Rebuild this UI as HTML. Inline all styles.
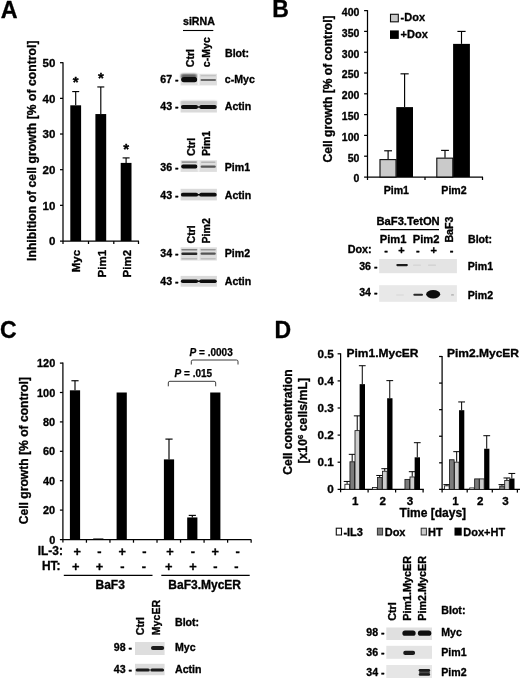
<!DOCTYPE html>
<html lang="en">
<head>
<meta charset="utf-8">
<title>Figure</title>
<style>
html,body{margin:0;padding:0;background:#fff;}
body{width:520px;height:678px;overflow:hidden;}
svg{display:block;}
svg text{font-family:"Liberation Sans", Arial, Helvetica, sans-serif;fill:#000;stroke:#000;stroke-width:0.33px;stroke-linejoin:round;}
</style>
</head>
<body>
<svg width="520" height="678" viewBox="0 0 520 678">
<defs>
<filter id="f1" x="-20%" y="-60%" width="140%" height="220%"><feGaussianBlur stdDeviation="0.75"/></filter>
<filter id="f2" x="-20%" y="-60%" width="140%" height="220%"><feGaussianBlur stdDeviation="1.1"/></filter>
<filter id="soft" x="-2%" y="-2%" width="104%" height="104%"><feGaussianBlur stdDeviation="0.35"/></filter>
</defs>
<rect x="0" y="0" width="520" height="678" fill="#ffffff"/>
<g filter="url(#soft)">
<text x="0.7" y="18.4" font-size="23.3" text-anchor="start" font-weight="bold">A</text>
<text x="272.2" y="17.4" font-size="23" text-anchor="start" font-weight="bold">B</text>
<text x="-0.1" y="337.7" font-size="23" text-anchor="start" font-weight="bold">C</text>
<text x="274.6" y="337.8" font-size="23" text-anchor="start" font-weight="bold">D</text>
<line x1="63.00" y1="62.20" x2="63.00" y2="244.00" stroke="#000" stroke-width="1.25"/>
<line x1="60.00" y1="241.00" x2="139.00" y2="241.00" stroke="#000" stroke-width="1.25"/>
<text x="55.3" y="245.2" font-size="11.5" text-anchor="end" font-weight="bold">0</text>
<line x1="60.00" y1="205.34" x2="63.00" y2="205.34" stroke="#000" stroke-width="1.25"/>
<text x="55.3" y="209.54" font-size="11.5" text-anchor="end" font-weight="bold">10</text>
<line x1="60.00" y1="169.68" x2="63.00" y2="169.68" stroke="#000" stroke-width="1.25"/>
<text x="55.3" y="173.88" font-size="11.5" text-anchor="end" font-weight="bold">20</text>
<line x1="60.00" y1="134.02" x2="63.00" y2="134.02" stroke="#000" stroke-width="1.25"/>
<text x="55.3" y="138.21999999999997" font-size="11.5" text-anchor="end" font-weight="bold">30</text>
<line x1="60.00" y1="98.36" x2="63.00" y2="98.36" stroke="#000" stroke-width="1.25"/>
<text x="55.3" y="102.56000000000002" font-size="11.5" text-anchor="end" font-weight="bold">40</text>
<line x1="60.00" y1="62.70" x2="63.00" y2="62.70" stroke="#000" stroke-width="1.25"/>
<text x="55.3" y="66.89999999999999" font-size="11.5" text-anchor="end" font-weight="bold">50</text>
<line x1="88.50" y1="241.00" x2="88.50" y2="244.00" stroke="#000" stroke-width="1.25"/>
<line x1="113.80" y1="241.00" x2="113.80" y2="244.00" stroke="#000" stroke-width="1.25"/>
<line x1="138.50" y1="241.00" x2="138.50" y2="244.00" stroke="#000" stroke-width="1.25"/>
<rect x="70.30" y="105.31" width="10.80" height="135.69" fill="#050505"/>
<line x1="75.70" y1="91.58" x2="75.70" y2="105.31" stroke="#000" stroke-width="1.15"/>
<line x1="72.20" y1="91.58" x2="79.20" y2="91.58" stroke="#000" stroke-width="1.15"/>
<text x="75.7" y="87.38459999999999" font-size="15" text-anchor="middle" font-weight="bold">*</text>
<text x="80.5" y="249.9" font-size="11.5" text-anchor="end" font-weight="bold" transform="rotate(-90 80.5 249.9)">Myc</text>
<rect x="95.40" y="114.05" width="10.80" height="126.95" fill="#050505"/>
<line x1="100.80" y1="86.95" x2="100.80" y2="114.05" stroke="#000" stroke-width="1.15"/>
<line x1="97.30" y1="86.95" x2="104.30" y2="86.95" stroke="#000" stroke-width="1.15"/>
<text x="100.8" y="82.74879999999997" font-size="15" text-anchor="middle" font-weight="bold">*</text>
<text x="105.8" y="249.9" font-size="11.5" text-anchor="end" font-weight="bold" transform="rotate(-90 105.8 249.9)">Pim1</text>
<rect x="120.70" y="162.90" width="10.80" height="78.10" fill="#050505"/>
<line x1="126.10" y1="157.91" x2="126.10" y2="162.90" stroke="#000" stroke-width="1.15"/>
<line x1="122.60" y1="157.91" x2="129.60" y2="157.91" stroke="#000" stroke-width="1.15"/>
<text x="126.1" y="153.7122" font-size="15" text-anchor="middle" font-weight="bold">*</text>
<text x="131" y="249.9" font-size="11.5" text-anchor="end" font-weight="bold" transform="rotate(-90 131 249.9)">Pim2</text>
<text x="35.6" y="261.0" font-size="12.1" text-anchor="start" font-weight="bold" transform="rotate(-90 35.6 261.0)" textLength="220.5" lengthAdjust="spacing">Inhibition of cell growth [% of control]</text>
<text x="183" y="25.3" font-size="10.6" text-anchor="start" font-weight="bold">siRNA</text>
<line x1="183.00" y1="30.50" x2="213.30" y2="30.50" stroke="#000" stroke-width="1.1"/>
<text x="194.4" y="67.2" font-size="10.6" text-anchor="start" font-weight="bold" transform="rotate(-90 194.4 67.2)">Ctrl</text>
<text x="209.8" y="67.2" font-size="10.6" text-anchor="start" font-weight="bold" transform="rotate(-90 209.8 67.2)">c-Myc</text>
<text x="225" y="57.4" font-size="10.6" text-anchor="start" font-weight="bold">Blot:</text>
<text x="160.3" y="82.8" font-size="10.6" text-anchor="start" font-weight="bold">67 -</text>
<g><rect x="180.6" y="73.8" width="36.3" height="11.6" fill="#dedede" filter="url(#f1)"/>
<rect x="180.8" y="73.9" width="16.2" height="4.6" rx="2.30" fill="#5a5a5a" filter="url(#f2)"/>
<rect x="181.2" y="77.0" width="16.0" height="5.2" rx="2.60" fill="#080808" filter="url(#f1)"/>
<rect x="197.6" y="73.5" width="2" height="12" rx="1.00" fill="#f4f4f4" filter="url(#f1)"/>
<rect x="200.5" y="79.1" width="15.5" height="1.9" rx="0.95" fill="#6a6a6a" filter="url(#f1)"/>
<rect x="200.5" y="75.3" width="15.5" height="1.0" rx="0.50" fill="#bbb" filter="url(#f1)"/>
</g>
<text x="224.8" y="82.8" font-size="10.6" text-anchor="start" font-weight="bold">c-Myc</text>
<text x="160.3" y="110.4" font-size="10.6" text-anchor="start" font-weight="bold">43 -</text>
<g><rect x="180.6" y="100.9" width="36.3" height="11.6" fill="#dadada" filter="url(#f1)"/>
<rect x="180.6" y="100.9" width="36.3" height="4" rx="2.00" fill="#c2c2c2" filter="url(#f2)"/>
<rect x="180.9" y="104.9" width="17.2" height="4.2" rx="2.10" fill="#080808" filter="url(#f1)"/>
<rect x="199.3" y="104.9" width="17.4" height="4.0" rx="2.00" fill="#080808" filter="url(#f1)"/>
<rect x="196" y="106.2" width="6" height="1.6" rx="0.80" fill="#111" filter="url(#f1)"/>
</g>
<text x="224.8" y="110.4" font-size="10.6" text-anchor="start" font-weight="bold">Actin</text>
<text x="194.6" y="156.1" font-size="10.6" text-anchor="start" font-weight="bold" transform="rotate(-90 194.6 156.1)">Ctrl</text>
<text x="210.1" y="156.1" font-size="10.6" text-anchor="start" font-weight="bold" transform="rotate(-90 210.1 156.1)">Pim1</text>
<text x="160.3" y="170.7" font-size="10.6" text-anchor="start" font-weight="bold">36 -</text>
<g><rect x="180.6" y="160.3" width="36.3" height="11.6" fill="#dedede" filter="url(#f1)"/>
<rect x="181.2" y="164.6" width="16.2" height="3.8" rx="1.90" fill="#0c0c0c" filter="url(#f1)"/>
<rect x="200.6" y="165.5" width="15.2" height="2.3" rx="1.15" fill="#555" filter="url(#f1)"/>
<rect x="181.5" y="161.3" width="15.5" height="1.6" rx="0.80" fill="#999" filter="url(#f1)"/>
<rect x="201" y="161.5" width="14.5" height="1.4" rx="0.70" fill="#b5b5b5" filter="url(#f1)"/>
<rect x="197.6" y="160" width="2" height="12" rx="1.00" fill="#f0f0f0" filter="url(#f1)"/>
</g>
<text x="224.8" y="170.7" font-size="10.6" text-anchor="start" font-weight="bold">Pim1</text>
<text x="160.3" y="198.6" font-size="10.6" text-anchor="start" font-weight="bold">43 -</text>
<g><rect x="180.6" y="188.8" width="36.3" height="11.6" fill="#dadada" filter="url(#f1)"/>
<rect x="180.9" y="192.8" width="17.2" height="3.8" rx="1.90" fill="#080808" filter="url(#f1)"/>
<rect x="199.3" y="192.8" width="17.4" height="3.7" rx="1.85" fill="#080808" filter="url(#f1)"/>
<rect x="196" y="194" width="6" height="1.5" rx="0.75" fill="#111" filter="url(#f1)"/>
</g>
<text x="224.8" y="198.6" font-size="10.6" text-anchor="start" font-weight="bold">Actin</text>
<text x="194.6" y="243.5" font-size="10.6" text-anchor="start" font-weight="bold" transform="rotate(-90 194.6 243.5)">Ctrl</text>
<text x="210.1" y="243.5" font-size="10.6" text-anchor="start" font-weight="bold" transform="rotate(-90 210.1 243.5)">Pim2</text>
<text x="160.3" y="256.8" font-size="10.6" text-anchor="start" font-weight="bold">34 -</text>
<g><rect x="180.6" y="247.3" width="36.3" height="13.2" fill="#dddddd" filter="url(#f1)"/>
<rect x="181.3" y="252.5" width="16.2" height="2.5" rx="1.25" fill="#2a2a2a" filter="url(#f1)"/>
<rect x="200.5" y="252.5" width="15.3" height="2.3" rx="1.15" fill="#555" filter="url(#f1)"/>
<rect x="181.3" y="249" width="16.2" height="1.6" rx="0.80" fill="#808080" filter="url(#f1)"/>
<rect x="200.5" y="249" width="15.3" height="1.5" rx="0.75" fill="#999" filter="url(#f1)"/>
<rect x="181.3" y="258" width="16.2" height="1.4" rx="0.70" fill="#bbb" filter="url(#f1)"/>
<rect x="200.5" y="258" width="15.3" height="1.4" rx="0.70" fill="#c0c0c0" filter="url(#f1)"/>
<rect x="197.6" y="247" width="2" height="13.5" rx="1.00" fill="#eeeeee" filter="url(#f1)"/>
</g>
<text x="224.8" y="256.8" font-size="10.6" text-anchor="start" font-weight="bold">Pim2</text>
<text x="160.3" y="285.3" font-size="10.6" text-anchor="start" font-weight="bold">43 -</text>
<g><rect x="180.6" y="275.9" width="36.3" height="10.8" fill="#dadada" filter="url(#f1)"/>
<rect x="180.9" y="279.5" width="17.2" height="3.5" rx="1.75" fill="#080808" filter="url(#f1)"/>
<rect x="199.3" y="279.5" width="17.4" height="3.4" rx="1.70" fill="#080808" filter="url(#f1)"/>
<rect x="196" y="280.6" width="6" height="1.4" rx="0.70" fill="#111" filter="url(#f1)"/>
</g>
<text x="224.8" y="285.3" font-size="10.6" text-anchor="start" font-weight="bold">Actin</text>
<line x1="367.50" y1="10.10" x2="367.50" y2="180.00" stroke="#000" stroke-width="1.25"/>
<line x1="364.10" y1="177.00" x2="483.00" y2="177.00" stroke="#000" stroke-width="1.25"/>
<text x="359.4" y="182.3" font-size="10.5" text-anchor="end" font-weight="bold">0</text>
<line x1="364.10" y1="156.20" x2="367.50" y2="156.20" stroke="#000" stroke-width="1.25"/>
<text x="359.4" y="161.5" font-size="10.5" text-anchor="end" font-weight="bold">50</text>
<line x1="364.10" y1="135.40" x2="367.50" y2="135.40" stroke="#000" stroke-width="1.25"/>
<text x="359.4" y="140.70000000000002" font-size="10.5" text-anchor="end" font-weight="bold">100</text>
<line x1="364.10" y1="114.60" x2="367.50" y2="114.60" stroke="#000" stroke-width="1.25"/>
<text x="359.4" y="119.89999999999999" font-size="10.5" text-anchor="end" font-weight="bold">150</text>
<line x1="364.10" y1="93.80" x2="367.50" y2="93.80" stroke="#000" stroke-width="1.25"/>
<text x="359.4" y="99.1" font-size="10.5" text-anchor="end" font-weight="bold">200</text>
<line x1="364.10" y1="73.00" x2="367.50" y2="73.00" stroke="#000" stroke-width="1.25"/>
<text x="359.4" y="78.3" font-size="10.5" text-anchor="end" font-weight="bold">250</text>
<line x1="364.10" y1="52.20" x2="367.50" y2="52.20" stroke="#000" stroke-width="1.25"/>
<text x="359.4" y="57.5" font-size="10.5" text-anchor="end" font-weight="bold">300</text>
<line x1="364.10" y1="31.40" x2="367.50" y2="31.40" stroke="#000" stroke-width="1.25"/>
<text x="359.4" y="36.7" font-size="10.5" text-anchor="end" font-weight="bold">350</text>
<line x1="364.10" y1="10.60" x2="367.50" y2="10.60" stroke="#000" stroke-width="1.25"/>
<text x="359.4" y="15.899999999999995" font-size="10.5" text-anchor="end" font-weight="bold">400</text>
<line x1="425.00" y1="177.00" x2="425.00" y2="180.00" stroke="#000" stroke-width="1.25"/>
<line x1="482.50" y1="177.00" x2="482.50" y2="180.00" stroke="#000" stroke-width="1.25"/>
<rect x="380.00" y="159.61" width="16.00" height="17.39" fill="#cacaca" stroke="#0a0a0a" stroke-width="1.1"/>
<rect x="396.30" y="107.11" width="16.70" height="69.89" fill="#050505"/>
<rect x="436.80" y="158.16" width="16.00" height="18.84" fill="#cacaca" stroke="#0a0a0a" stroke-width="1.1"/>
<rect x="453.10" y="43.88" width="16.80" height="133.12" fill="#050505"/>
<line x1="388.10" y1="150.79" x2="388.10" y2="159.11" stroke="#000" stroke-width="1.15"/>
<line x1="384.20" y1="150.79" x2="392.00" y2="150.79" stroke="#000" stroke-width="1.15"/>
<line x1="404.60" y1="73.83" x2="404.60" y2="107.11" stroke="#000" stroke-width="1.15"/>
<line x1="400.50" y1="73.83" x2="408.70" y2="73.83" stroke="#000" stroke-width="1.15"/>
<line x1="445.00" y1="150.38" x2="445.00" y2="157.66" stroke="#000" stroke-width="1.15"/>
<line x1="441.10" y1="150.38" x2="448.90" y2="150.38" stroke="#000" stroke-width="1.15"/>
<line x1="461.50" y1="31.40" x2="461.50" y2="43.88" stroke="#000" stroke-width="1.15"/>
<line x1="457.40" y1="31.40" x2="465.60" y2="31.40" stroke="#000" stroke-width="1.15"/>
<text x="396.3" y="193.6" font-size="10.6" text-anchor="middle" font-weight="bold">Pim1</text>
<text x="454" y="193.6" font-size="10.6" text-anchor="middle" font-weight="bold">Pim2</text>
<text x="332" y="162.5" font-size="12.1" text-anchor="start" font-weight="bold" transform="rotate(-90 332 162.5)">Cell growth [% of control]</text>
<rect x="390.50" y="14.30" width="7.80" height="7.50" fill="#cacaca" stroke="#111" stroke-width="1.1"/>
<text x="400.6" y="21.3" font-size="11" text-anchor="start" font-weight="bold">-Dox</text>
<rect x="390.00" y="30.40" width="8.80" height="8.50" fill="#050505"/>
<text x="400.6" y="38.1" font-size="11" text-anchor="start" font-weight="bold">+Dox</text>
<text x="376.5" y="225.2" font-size="11.2" text-anchor="start" font-weight="bold">BaF3.TetON</text>
<line x1="380.30" y1="229.60" x2="439.00" y2="229.60" stroke="#000" stroke-width="1.1"/>
<text x="379.8" y="242.5" font-size="11.2" text-anchor="start" font-weight="bold">Pim1</text>
<text x="412.8" y="242.5" font-size="11.2" text-anchor="start" font-weight="bold">Pim2</text>
<text x="453.5" y="242.6" font-size="10.7" text-anchor="start" font-weight="bold" transform="rotate(-90 453.5 242.6)">BaF3</text>
<text x="468" y="243" font-size="10.6" text-anchor="start" font-weight="bold">Blot:</text>
<text x="347.7" y="253" font-size="10.8" text-anchor="start" font-weight="bold">Dox:</text>
<text x="386.2" y="254.2" font-size="11" text-anchor="middle" font-weight="bold">-</text>
<text x="401.5" y="254.2" font-size="11" text-anchor="middle" font-weight="bold">+</text>
<text x="417.9" y="254.2" font-size="11" text-anchor="middle" font-weight="bold">-</text>
<text x="433.7" y="254.2" font-size="11" text-anchor="middle" font-weight="bold">+</text>
<text x="451.5" y="254.2" font-size="11" text-anchor="middle" font-weight="bold">-</text>
<text x="359.2" y="269.8" font-size="10.6" text-anchor="start" font-weight="bold">36 -</text>
<g><rect x="379.2" y="259.0" width="77.7" height="14.2" fill="#e4e4e4" filter="url(#f1)"/>
<rect x="396.3" y="264.0" width="11.6" height="2.2" rx="1.10" fill="#1a1a1a" filter="url(#f1)"/>
<rect x="413" y="264.6" width="8" height="1.2" rx="0.60" fill="#d4d4d4" filter="url(#f1)"/>
<rect x="428" y="264.6" width="8" height="1.2" rx="0.60" fill="#d0d0d0" filter="url(#f1)"/>
</g>
<text x="467.8" y="269.8" font-size="10.6" text-anchor="start" font-weight="bold">Pim1</text>
<text x="359.2" y="295.8" font-size="10.6" text-anchor="start" font-weight="bold">34 -</text>
<g><rect x="379.2" y="285.2" width="77.7" height="16.6" fill="#e8e8e8" filter="url(#f1)"/>
<rect x="413.3" y="293.7" width="9.7" height="2" rx="1.00" fill="#2a2a2a" filter="url(#f1)"/>
<rect x="396" y="294.5" width="8" height="1.0" rx="0.50" fill="#d8d8d8" filter="url(#f1)"/>
<rect x="451" y="294.2" width="3" height="1.4" rx="0.70" fill="#aaa" filter="url(#f1)"/>
</g>
<ellipse cx="433.2" cy="294.2" rx="7" ry="4.2" fill="#0a0a0a" filter="url(#f1)"/>
<text x="467.8" y="299" font-size="10.6" text-anchor="start" font-weight="bold">Pim2</text>
<line x1="62.90" y1="362.60" x2="62.90" y2="542.50" stroke="#000" stroke-width="1.25"/>
<line x1="59.90" y1="539.50" x2="251.20" y2="539.50" stroke="#000" stroke-width="1.25"/>
<text x="55.2" y="543.5" font-size="10.9" text-anchor="end" font-weight="bold">0</text>
<line x1="59.90" y1="510.10" x2="62.90" y2="510.10" stroke="#000" stroke-width="1.25"/>
<text x="55.2" y="514.1" font-size="10.9" text-anchor="end" font-weight="bold">20</text>
<line x1="59.90" y1="480.70" x2="62.90" y2="480.70" stroke="#000" stroke-width="1.25"/>
<text x="55.2" y="484.7" font-size="10.9" text-anchor="end" font-weight="bold">40</text>
<line x1="59.90" y1="451.30" x2="62.90" y2="451.30" stroke="#000" stroke-width="1.25"/>
<text x="55.2" y="455.3" font-size="10.9" text-anchor="end" font-weight="bold">60</text>
<line x1="59.90" y1="421.90" x2="62.90" y2="421.90" stroke="#000" stroke-width="1.25"/>
<text x="55.2" y="425.90000000000003" font-size="10.9" text-anchor="end" font-weight="bold">80</text>
<line x1="59.90" y1="392.50" x2="62.90" y2="392.50" stroke="#000" stroke-width="1.25"/>
<text x="55.2" y="396.5" font-size="10.9" text-anchor="end" font-weight="bold">100</text>
<line x1="59.90" y1="363.10" x2="62.90" y2="363.10" stroke="#000" stroke-width="1.25"/>
<text x="55.2" y="367.1" font-size="10.9" text-anchor="end" font-weight="bold">120</text>
<line x1="86.43" y1="539.50" x2="86.43" y2="542.70" stroke="#000" stroke-width="1.25"/>
<line x1="109.96" y1="539.50" x2="109.96" y2="542.70" stroke="#000" stroke-width="1.25"/>
<line x1="133.49" y1="539.50" x2="133.49" y2="542.70" stroke="#000" stroke-width="1.25"/>
<line x1="157.02" y1="539.50" x2="157.02" y2="542.70" stroke="#000" stroke-width="1.25"/>
<line x1="180.55" y1="539.50" x2="180.55" y2="542.70" stroke="#000" stroke-width="1.25"/>
<line x1="204.08" y1="539.50" x2="204.08" y2="542.70" stroke="#000" stroke-width="1.25"/>
<line x1="227.61" y1="539.50" x2="227.61" y2="542.70" stroke="#000" stroke-width="1.25"/>
<line x1="251.14" y1="539.50" x2="251.14" y2="542.70" stroke="#000" stroke-width="1.25"/>
<rect x="69.90" y="390.30" width="10.20" height="149.20" fill="#050505"/>
<line x1="75.00" y1="380.74" x2="75.00" y2="390.30" stroke="#000" stroke-width="1.15"/>
<line x1="71.40" y1="380.74" x2="78.60" y2="380.74" stroke="#000" stroke-width="1.15"/>
<rect x="93.20" y="538.47" width="10.20" height="1.03" fill="#050505"/>
<rect x="116.60" y="392.50" width="10.20" height="147.00" fill="#050505"/>
<rect x="163.90" y="459.38" width="10.20" height="80.12" fill="#050505"/>
<line x1="169.00" y1="439.10" x2="169.00" y2="459.38" stroke="#000" stroke-width="1.15"/>
<line x1="165.40" y1="439.10" x2="172.60" y2="439.10" stroke="#000" stroke-width="1.15"/>
<rect x="187.20" y="517.45" width="10.20" height="22.05" fill="#050505"/>
<line x1="192.30" y1="515.39" x2="192.30" y2="517.45" stroke="#000" stroke-width="1.15"/>
<line x1="188.70" y1="515.39" x2="195.90" y2="515.39" stroke="#000" stroke-width="1.15"/>
<rect x="210.20" y="392.50" width="10.20" height="147.00" fill="#050505"/>
<text x="37.8" y="555.4" font-size="11.9" text-anchor="start" font-weight="bold">IL-3:</text>
<text x="42.0" y="569.6" font-size="11.9" text-anchor="start" font-weight="bold">HT:</text>
<text x="77.2" y="556.0" font-size="12.8" text-anchor="middle" font-weight="bold">+</text>
<text x="75.8" y="570.9" font-size="12.8" text-anchor="middle" font-weight="bold">+</text>
<text x="99.4" y="556.0" font-size="12.8" text-anchor="middle" font-weight="bold">-</text>
<text x="99.5" y="570.9" font-size="12.8" text-anchor="middle" font-weight="bold">+</text>
<text x="122.3" y="556.0" font-size="12.8" text-anchor="middle" font-weight="bold">+</text>
<text x="122.3" y="570.9" font-size="12.8" text-anchor="middle" font-weight="bold">-</text>
<text x="144.5" y="556.0" font-size="12.8" text-anchor="middle" font-weight="bold">-</text>
<text x="143.8" y="570.9" font-size="12.8" text-anchor="middle" font-weight="bold">-</text>
<text x="170.0" y="556.0" font-size="12.8" text-anchor="middle" font-weight="bold">+</text>
<text x="168.8" y="570.9" font-size="12.8" text-anchor="middle" font-weight="bold">+</text>
<text x="193.0" y="556.0" font-size="12.8" text-anchor="middle" font-weight="bold">-</text>
<text x="193.0" y="570.9" font-size="12.8" text-anchor="middle" font-weight="bold">+</text>
<text x="215.3" y="556.0" font-size="12.8" text-anchor="middle" font-weight="bold">+</text>
<text x="215.3" y="570.9" font-size="12.8" text-anchor="middle" font-weight="bold">-</text>
<text x="237.6" y="556.0" font-size="12.8" text-anchor="middle" font-weight="bold">-</text>
<text x="236.5" y="570.9" font-size="12.8" text-anchor="middle" font-weight="bold">-</text>
<line x1="63.80" y1="575.30" x2="152.50" y2="575.30" stroke="#000" stroke-width="1.25"/>
<line x1="161.30" y1="575.30" x2="249.70" y2="575.30" stroke="#000" stroke-width="1.25"/>
<text x="110.2" y="589.2" font-size="12" text-anchor="middle" font-weight="bold">BaF3</text>
<text x="204.7" y="589.2" font-size="12" text-anchor="middle" font-weight="bold">BaF3.MycER</text>
<text x="28" y="524.2" font-size="12.1" text-anchor="start" font-weight="bold" transform="rotate(-90 28 524.2)">Cell growth [% of control]</text>
<path d="M191.3 364.5 V361.6 Q191.3 360 192.9 360 H236.4 Q238 360 238 361.6 V364.5" fill="none" stroke="#222" stroke-width="0.9"/>
<path d="M168.3 386.3 V382.90000000000003 Q168.3 381.3 169.9 381.3 H214.1 Q215.7 381.3 215.7 382.90000000000003 V386.3" fill="none" stroke="#222" stroke-width="0.9"/>
<text x="189.6" y="356.3" font-size="10" font-weight="bold" style="stroke-width:0.25px"><tspan font-style="italic">P</tspan> = .0003</text>
<text x="174.6" y="377.2" font-size="10" font-weight="bold" style="stroke-width:0.25px"><tspan font-style="italic">P</tspan> = .015</text>
<text x="144.5" y="635.2" font-size="10.6" text-anchor="start" font-weight="bold" transform="rotate(-90 144.5 635.2)">Ctrl</text>
<text x="159.7" y="635.2" font-size="10.6" text-anchor="start" font-weight="bold" transform="rotate(-90 159.7 635.2)">MycER</text>
<text x="175" y="625.5" font-size="10.6" text-anchor="start" font-weight="bold">Blot:</text>
<text x="113.8" y="651.3" font-size="10.6" text-anchor="start" font-weight="bold">98 -</text>
<g><rect x="135" y="642" width="29.6" height="13" fill="#dedede" filter="url(#f1)"/>
<rect x="151.0" y="646.1" width="13.2" height="3.9" rx="1.95" fill="#1c1c1c" filter="url(#f1)"/>
</g>
<text x="175" y="651.3" font-size="10.6" text-anchor="start" font-weight="bold">Myc</text>
<text x="113.8" y="673.3" font-size="10.6" text-anchor="start" font-weight="bold">43 -</text>
<g><rect x="135" y="663.8" width="29.6" height="11.4" fill="#dcdcdc" filter="url(#f1)"/>
<rect x="135.6" y="668.4" width="14.2" height="3.1" rx="1.55" fill="#1a1a1a" filter="url(#f1)"/>
<rect x="150.3" y="668.4" width="13.8" height="3.1" rx="1.55" fill="#1a1a1a" filter="url(#f1)"/>
</g>
<text x="175" y="673.3" font-size="10.6" text-anchor="start" font-weight="bold">Actin</text>
<line x1="340.60" y1="353.30" x2="340.60" y2="492.30" stroke="#000" stroke-width="1.25"/>
<line x1="337.60" y1="489.30" x2="423.80" y2="489.30" stroke="#000" stroke-width="1.25"/>
<line x1="337.60" y1="462.20" x2="340.60" y2="462.20" stroke="#000" stroke-width="1.25"/>
<line x1="337.60" y1="435.10" x2="340.60" y2="435.10" stroke="#000" stroke-width="1.25"/>
<line x1="337.60" y1="408.00" x2="340.60" y2="408.00" stroke="#000" stroke-width="1.25"/>
<line x1="337.60" y1="380.90" x2="340.60" y2="380.90" stroke="#000" stroke-width="1.25"/>
<line x1="337.60" y1="353.80" x2="340.60" y2="353.80" stroke="#000" stroke-width="1.25"/>
<line x1="368.10" y1="489.30" x2="368.10" y2="492.50" stroke="#000" stroke-width="1.25"/>
<line x1="395.60" y1="489.30" x2="395.60" y2="492.50" stroke="#000" stroke-width="1.25"/>
<line x1="423.10" y1="489.30" x2="423.10" y2="492.50" stroke="#000" stroke-width="1.25"/>
<rect x="344.90" y="484.28" width="4.65" height="5.02" fill="#ffffff" stroke="#1a1a1a" stroke-width="0.85"/>
<line x1="347.12" y1="481.44" x2="347.12" y2="483.88" stroke="#000" stroke-width="1.0"/>
<line x1="343.73" y1="481.44" x2="350.52" y2="481.44" stroke="#000" stroke-width="1.0"/>
<rect x="349.95" y="461.79" width="4.65" height="27.51" fill="#7b7b7b" stroke="#1a1a1a" stroke-width="0.85"/>
<line x1="352.18" y1="454.34" x2="352.18" y2="461.39" stroke="#000" stroke-width="1.0"/>
<line x1="348.78" y1="454.34" x2="355.57" y2="454.34" stroke="#000" stroke-width="1.0"/>
<rect x="355.00" y="430.62" width="4.65" height="58.68" fill="#cccccc" stroke="#1a1a1a" stroke-width="0.85"/>
<line x1="357.23" y1="415.86" x2="357.23" y2="430.22" stroke="#000" stroke-width="1.0"/>
<line x1="353.83" y1="415.86" x2="360.62" y2="415.86" stroke="#000" stroke-width="1.0"/>
<rect x="359.65" y="384.15" width="5.35" height="105.15" fill="#050505"/>
<line x1="362.27" y1="365.72" x2="362.27" y2="384.15" stroke="#000" stroke-width="1.0"/>
<line x1="358.88" y1="365.72" x2="365.67" y2="365.72" stroke="#000" stroke-width="1.0"/>
<rect x="372.40" y="487.53" width="4.65" height="1.77" fill="#ffffff" stroke="#1a1a1a" stroke-width="0.85"/>
<rect x="377.45" y="477.50" width="4.65" height="11.79" fill="#7b7b7b" stroke="#1a1a1a" stroke-width="0.85"/>
<line x1="379.68" y1="475.48" x2="379.68" y2="477.11" stroke="#000" stroke-width="1.0"/>
<line x1="376.28" y1="475.48" x2="383.07" y2="475.48" stroke="#000" stroke-width="1.0"/>
<rect x="382.50" y="471.27" width="4.65" height="18.03" fill="#cccccc" stroke="#1a1a1a" stroke-width="0.85"/>
<line x1="384.73" y1="468.70" x2="384.73" y2="470.87" stroke="#000" stroke-width="1.0"/>
<line x1="381.33" y1="468.70" x2="388.12" y2="468.70" stroke="#000" stroke-width="1.0"/>
<rect x="387.15" y="398.24" width="5.35" height="91.06" fill="#050505"/>
<line x1="389.77" y1="380.63" x2="389.77" y2="398.24" stroke="#000" stroke-width="1.0"/>
<line x1="386.38" y1="380.63" x2="393.17" y2="380.63" stroke="#000" stroke-width="1.0"/>
<rect x="404.95" y="479.40" width="4.65" height="9.90" fill="#7b7b7b" stroke="#1a1a1a" stroke-width="0.85"/>
<rect x="410.00" y="476.96" width="4.65" height="12.34" fill="#cccccc" stroke="#1a1a1a" stroke-width="0.85"/>
<line x1="412.23" y1="471.69" x2="412.23" y2="476.56" stroke="#000" stroke-width="1.0"/>
<line x1="408.83" y1="471.69" x2="415.62" y2="471.69" stroke="#000" stroke-width="1.0"/>
<rect x="414.65" y="457.32" width="5.35" height="31.98" fill="#050505"/>
<line x1="417.27" y1="442.69" x2="417.27" y2="457.32" stroke="#000" stroke-width="1.0"/>
<line x1="413.88" y1="442.69" x2="420.67" y2="442.69" stroke="#000" stroke-width="1.0"/>
<text x="346.5" y="356.7" font-size="11.2" text-anchor="start" font-weight="bold" textLength="72" lengthAdjust="spacingAndGlyphs">Pim1.MycER</text>
<line x1="442.10" y1="356.00" x2="442.10" y2="492.40" stroke="#000" stroke-width="1.25"/>
<line x1="439.10" y1="489.40" x2="520.00" y2="489.40" stroke="#000" stroke-width="1.25"/>
<line x1="439.10" y1="462.82" x2="442.10" y2="462.82" stroke="#000" stroke-width="1.25"/>
<line x1="439.10" y1="436.24" x2="442.10" y2="436.24" stroke="#000" stroke-width="1.25"/>
<line x1="439.10" y1="409.66" x2="442.10" y2="409.66" stroke="#000" stroke-width="1.25"/>
<line x1="439.10" y1="383.08" x2="442.10" y2="383.08" stroke="#000" stroke-width="1.25"/>
<line x1="439.10" y1="356.50" x2="442.10" y2="356.50" stroke="#000" stroke-width="1.25"/>
<line x1="467.20" y1="489.40" x2="467.20" y2="492.60" stroke="#000" stroke-width="1.25"/>
<line x1="492.30" y1="489.40" x2="492.30" y2="492.60" stroke="#000" stroke-width="1.25"/>
<line x1="517.40" y1="489.40" x2="517.40" y2="492.60" stroke="#000" stroke-width="1.25"/>
<rect x="444.60" y="485.81" width="4.55" height="3.59" fill="#ffffff" stroke="#1a1a1a" stroke-width="0.85"/>
<line x1="446.78" y1="484.62" x2="446.78" y2="485.41" stroke="#000" stroke-width="1.0"/>
<line x1="443.38" y1="484.62" x2="450.18" y2="484.62" stroke="#000" stroke-width="1.0"/>
<rect x="449.55" y="459.76" width="4.55" height="29.64" fill="#7b7b7b" stroke="#1a1a1a" stroke-width="0.85"/>
<rect x="454.50" y="462.16" width="4.55" height="27.24" fill="#cccccc" stroke="#1a1a1a" stroke-width="0.85"/>
<line x1="456.68" y1="451.66" x2="456.68" y2="461.76" stroke="#000" stroke-width="1.0"/>
<line x1="453.28" y1="451.66" x2="460.08" y2="451.66" stroke="#000" stroke-width="1.0"/>
<rect x="459.05" y="410.19" width="5.25" height="79.21" fill="#050505"/>
<line x1="461.63" y1="401.95" x2="461.63" y2="410.19" stroke="#000" stroke-width="1.0"/>
<line x1="458.23" y1="401.95" x2="465.03" y2="401.95" stroke="#000" stroke-width="1.0"/>
<rect x="469.70" y="487.94" width="4.55" height="1.46" fill="#ffffff" stroke="#1a1a1a" stroke-width="0.85"/>
<rect x="474.65" y="478.90" width="4.55" height="10.50" fill="#7b7b7b" stroke="#1a1a1a" stroke-width="0.85"/>
<rect x="479.60" y="478.90" width="4.55" height="10.50" fill="#cccccc" stroke="#1a1a1a" stroke-width="0.85"/>
<rect x="484.15" y="448.73" width="5.25" height="40.67" fill="#050505"/>
<line x1="486.73" y1="435.71" x2="486.73" y2="448.73" stroke="#000" stroke-width="1.0"/>
<line x1="483.33" y1="435.71" x2="490.13" y2="435.71" stroke="#000" stroke-width="1.0"/>
<rect x="499.75" y="486.08" width="4.55" height="3.32" fill="#7b7b7b" stroke="#1a1a1a" stroke-width="0.85"/>
<line x1="501.93" y1="484.62" x2="501.93" y2="485.68" stroke="#000" stroke-width="1.0"/>
<line x1="498.53" y1="484.62" x2="505.33" y2="484.62" stroke="#000" stroke-width="1.0"/>
<rect x="504.70" y="480.50" width="4.55" height="8.90" fill="#cccccc" stroke="#1a1a1a" stroke-width="0.85"/>
<line x1="506.88" y1="477.97" x2="506.88" y2="480.10" stroke="#000" stroke-width="1.0"/>
<line x1="503.48" y1="477.97" x2="510.28" y2="477.97" stroke="#000" stroke-width="1.0"/>
<rect x="509.25" y="478.50" width="5.25" height="10.90" fill="#050505"/>
<line x1="511.83" y1="473.45" x2="511.83" y2="478.50" stroke="#000" stroke-width="1.0"/>
<line x1="508.43" y1="473.45" x2="515.23" y2="473.45" stroke="#000" stroke-width="1.0"/>
<text x="447.0" y="356.7" font-size="11.2" text-anchor="start" font-weight="bold" textLength="72" lengthAdjust="spacingAndGlyphs">Pim2.MycER</text>
<text x="333.7" y="493.40000000000003" font-size="11.7" text-anchor="end" font-weight="bold">0</text>
<text x="333.7" y="466.3" font-size="11.7" text-anchor="end" font-weight="bold">0.1</text>
<text x="333.7" y="439.20000000000005" font-size="11.7" text-anchor="end" font-weight="bold">0.2</text>
<text x="333.7" y="412.1" font-size="11.7" text-anchor="end" font-weight="bold">0.3</text>
<text x="333.7" y="385.0" font-size="11.7" text-anchor="end" font-weight="bold">0.4</text>
<text x="333.7" y="357.90000000000003" font-size="11.7" text-anchor="end" font-weight="bold">0.5</text>
<text x="355.2" y="504.7" font-size="11.6" text-anchor="middle" font-weight="bold">1</text>
<text x="382.7" y="504.7" font-size="11.6" text-anchor="middle" font-weight="bold">2</text>
<text x="409.9" y="504.7" font-size="11.6" text-anchor="middle" font-weight="bold">3</text>
<text x="455.6" y="504.7" font-size="11.6" text-anchor="middle" font-weight="bold">1</text>
<text x="480.3" y="504.7" font-size="11.6" text-anchor="middle" font-weight="bold">2</text>
<text x="505.4" y="504.7" font-size="11.6" text-anchor="middle" font-weight="bold">3</text>
<text x="399.6" y="517.2" font-size="12" text-anchor="start" font-weight="bold">Time [days]</text>
<text x="292.5" y="474.8" font-size="12.1" text-anchor="start" font-weight="bold" transform="rotate(-90 292.5 474.8)">Cell concentration</text>
<text x="307.2" y="463.6" font-size="12.3" font-weight="bold" transform="rotate(-90 307.2 463.6)">[x10<tspan font-size="7.8" dy="-4.4">6</tspan><tspan dy="4.4"> cells/mL]</tspan></text>
<rect x="336.30" y="528.20" width="5.20" height="6.80" fill="#ffffff" stroke="#111" stroke-width="1.1"/>
<text x="343.4" y="535.6" font-size="11" text-anchor="start" font-weight="bold">-IL3</text>
<rect x="377.40" y="528.20" width="5.20" height="6.80" fill="#7b7b7b" stroke="#333" stroke-width="1.0"/>
<text x="384.7" y="535.6" font-size="11" text-anchor="start" font-weight="bold">Dox</text>
<rect x="421.20" y="528.20" width="5.20" height="6.80" fill="#cccccc" stroke="#333" stroke-width="1.0"/>
<text x="428.1" y="535.6" font-size="11" text-anchor="start" font-weight="bold">HT</text>
<rect x="454.50" y="527.60" width="7.20" height="8.00" fill="#050505"/>
<text x="463.3" y="535.6" font-size="11" text-anchor="start" font-weight="bold">Dox+HT</text>
<text x="395.8" y="620.8" font-size="10.8" text-anchor="start" font-weight="bold" transform="rotate(-90 395.8 620.8)">Ctrl</text>
<text x="410.8" y="620.8" font-size="10.8" text-anchor="start" font-weight="bold" transform="rotate(-90 410.8 620.8)">Pim1.MycER</text>
<text x="426.3" y="620.8" font-size="10.8" text-anchor="start" font-weight="bold" transform="rotate(-90 426.3 620.8)">Pim2.MycER</text>
<text x="441.3" y="613.8" font-size="10.6" text-anchor="start" font-weight="bold">Blot:</text>
<text x="366.3" y="636.3" font-size="10.6" text-anchor="start" font-weight="bold">98 -</text>
<g><rect x="386.3" y="627.5" width="45.7" height="12.5" fill="#e0e0e0" filter="url(#f1)"/>
<rect x="402.4" y="630.6" width="13.2" height="5.2" rx="2.60" fill="#0c0c0c" filter="url(#f1)"/>
<rect x="417.9" y="630.6" width="13.4" height="5.2" rx="2.60" fill="#0c0c0c" filter="url(#f1)"/>
</g>
<text x="441.3" y="636.3" font-size="10.6" text-anchor="start" font-weight="bold">Myc</text>
<text x="366.3" y="655.8" font-size="10.6" text-anchor="start" font-weight="bold">36 -</text>
<g><rect x="386.3" y="645.8" width="45.7" height="13" fill="#e4e4e4" filter="url(#f1)"/>
<rect x="403.2" y="650.8" width="11.9" height="4.2" rx="2.10" fill="#1a1a1a" filter="url(#f1)"/>
</g>
<text x="441.3" y="655.8" font-size="10.6" text-anchor="start" font-weight="bold">Pim1</text>
<text x="366.3" y="675.5" font-size="10.6" text-anchor="start" font-weight="bold">34 -</text>
<g><rect x="386.3" y="665" width="45.7" height="13.5" fill="#e6e6e6" filter="url(#f1)"/>
<rect x="419.2" y="669.6" width="10.6" height="5.4" rx="2.70" fill="#4a4a4a" filter="url(#f1)"/>
<rect x="418.7" y="669" width="11.4" height="2.5" rx="1.25" fill="#1c1c1c" filter="url(#f1)"/>
<rect x="418.7" y="673.2" width="11.4" height="2.5" rx="1.25" fill="#1c1c1c" filter="url(#f1)"/>
</g>
<text x="441.3" y="675.5" font-size="10.6" text-anchor="start" font-weight="bold">Pim2</text>
</g>
</svg>
</body>
</html>
